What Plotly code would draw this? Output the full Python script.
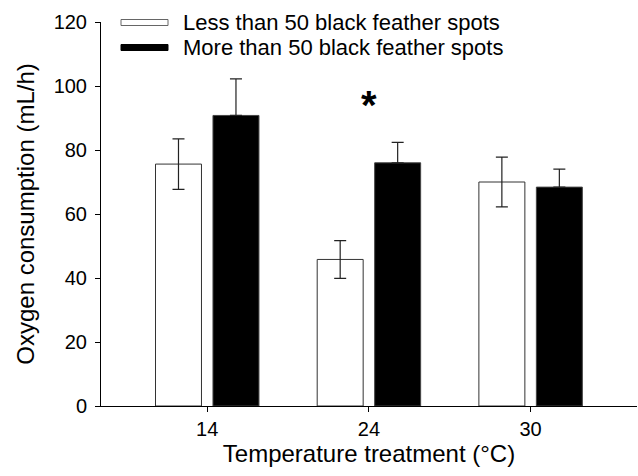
import plotly.graph_objects as go

temps = ["14", "24", "30"]
less_vals = [75.6, 45.8, 70.0]
less_err = [7.9, 5.9, 7.8]
more_vals = [90.8, 76.0, 68.4]
more_err = [11.4, 6.4, 5.6]
legend_labels = ["Less than 50 black feather spots", "More than 50 black feather spots"]
y_ticks = [0, 20, 40, 60, 80, 100, 120]
star_temp = "24"
star_y = 94.2

FONT = "Arial, Liberation Sans, Helvetica, sans-serif"

fig = go.Figure()
fig.add_trace(go.Bar(
    x=temps, y=less_vals, name=legend_labels[0],
    marker=dict(color="white", line=dict(color="#333333", width=1)),
    error_y=dict(type="data", array=less_err, visible=True, color="#222222", thickness=1.2, width=6),
    showlegend=False,
))
fig.add_trace(go.Bar(
    x=temps, y=more_vals, name=legend_labels[1],
    marker=dict(color="black", line=dict(color="#444444", width=1)),
    error_y=dict(type="data", array=more_err, arrayminus=[0, 0, 0], symmetric=False,
                 visible=True, color="#222222", thickness=1.2, width=6),
    showlegend=False,
))

# significance marker (category index of the starred temperature)
fig.add_annotation(x=temps.index(star_temp), y=star_y, text="<b>*</b>", showarrow=False,
                   font=dict(family=FONT, size=40, color="black"), yanchor="middle")

# manual legend
leg_rows = [(0.0, "white", "#666666"), (1.0, "black", "black")]
for i, (row, fill, edge) in enumerate(leg_rows):
    yc = 1.0 - (0.5 + 25 * row) / 384.0
    fig.add_shape(type="rect", xref="paper", yref="paper",
                  x0=20 / 536, x1=67 / 536, y0=yc - 3 / 384, y1=yc + 3 / 384,
                  fillcolor=fill, line=dict(color=edge, width=1))
    fig.add_annotation(xref="paper", yref="paper", x=80 / 536, y=yc, text=legend_labels[i],
                       showarrow=False, xanchor="left", yanchor="middle",
                       font=dict(family=FONT, size=22, color="black"))

fig.update_layout(
    width=638, height=476,
    margin=dict(l=101, r=1, t=22, b=70),
    paper_bgcolor="white", plot_bgcolor="white",
    barmode="group", bargap=0.289, bargroupgap=0.2,
    font=dict(family=FONT, color="black"),
    xaxis=dict(
        type="category", range=[-0.657, 2.658],
        showline=True, linecolor="black", linewidth=1,
        ticks="outside", ticklen=5, tickcolor="black",
        tickfont=dict(size=20), showgrid=False, zeroline=False,
        title=dict(text="Temperature treatment (°C)", font=dict(size=24), standoff=4),
    ),
    yaxis=dict(
        range=[0, 120], tickvals=y_ticks,
        showline=True, linecolor="black", linewidth=1,
        ticks="outside", ticklen=5, tickcolor="black",
        tickfont=dict(size=20), showgrid=False, zeroline=False,
        ticklabelstandoff=4,
        title=dict(text="Oxygen consumption (mL/h)", font=dict(size=24), standoff=12),
    ),
)

fig.write_html("out.html")
